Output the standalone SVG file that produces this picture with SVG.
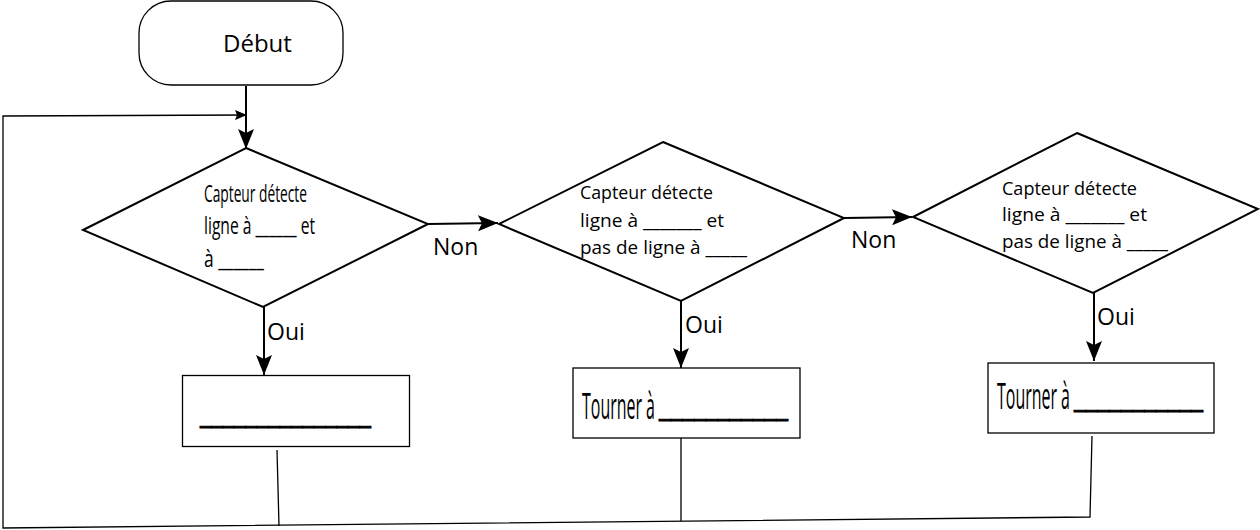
<svg xmlns="http://www.w3.org/2000/svg" width="1260" height="530" viewBox="0 0 1260 530">
<style>
  .shape { fill: #fff; stroke: #000; }
  .dia { stroke-width: 2; }
  .box { stroke-width: 1.3; }
  .conn { fill: none; stroke: #000; stroke-width: 2; }
  .thin { fill: none; stroke: #000; stroke-width: 1.3; }
  .lbl { font-family: "Open Sans", "Noto Sans", sans-serif; fill: #000; }
  .big { font-size: 23px; }
  .d1 { font-size: 23px; }
  .d2 { font-size: 18px; }
  .bx { font-size: 36px; }
  .us { font-size: 28px; stroke: #000; stroke-width: 1; }
</style>
<defs>
  <marker id="ah" viewBox="-20 -8 20 16" refX="0" refY="0" markerWidth="20" markerHeight="16" markerUnits="userSpaceOnUse" orient="auto">
    <path d="M0,0 L-20,-8 L-16,0 L-20,8 Z" fill="#000"/>
  </marker>
  <marker id="ahs" viewBox="-12 -5 12 10" refX="0" refY="0" markerWidth="12" markerHeight="10" markerUnits="userSpaceOnUse" orient="auto">
    <path d="M0,0 L-12,-5 L-10,0 L-12,5 Z" fill="#000"/>
  </marker>
</defs>

<g id="connectors">
  <path class="conn" d="M246,86 L246,149" marker-end="url(#ah)"/>
  <path class="thin" d="M1092,436 L1090,517 L3,528 L3,116 L247,115" marker-end="url(#ahs)"/>
  <path class="thin" d="M277,450 L279,526"/>
  <path class="thin" d="M681,438 L681,521"/>
  <path class="conn" d="M428,224 L498,223" marker-end="url(#ah)"/>
  <path class="conn" d="M844,218 L912,217" marker-end="url(#ah)"/>
  <path class="conn" d="M264,307 L264,375" marker-end="url(#ah)"/>
  <path class="conn" d="M681,301 L681,368" marker-end="url(#ah)"/>
  <path class="conn" d="M1094,293 L1094,361" marker-end="url(#ah)"/>
  <text class="lbl big" x="433" y="255">Non</text>
  <text class="lbl big" x="851" y="248">Non</text>
  <text class="lbl big" x="267" y="340">Oui</text>
  <text class="lbl big" x="685" y="333">Oui</text>
  <text class="lbl big" x="1097" y="325">Oui</text>
</g>

<g id="start">
  <rect class="shape box" x="139" y="1" width="204" height="84" rx="32" ry="32"/>
  <text class="lbl" style="font-size:24px" x="223" y="52">Début</text>
</g>

<g id="decision1">
  <polygon class="shape dia" points="246,148 428,224 263,307 83,230"/>
  <text class="lbl d1" x="204" y="202" textLength="103" lengthAdjust="spacingAndGlyphs">Capteur détecte</text>
  <text class="lbl d1" x="204" y="234" textLength="111" lengthAdjust="spacingAndGlyphs">ligne à ______ et</text>
  <text class="lbl d1" x="204" y="267" textLength="60" lengthAdjust="spacingAndGlyphs">à ______</text>
</g>

<g id="decision2">
  <polygon class="shape dia" points="663,142 844,218 681,301 499,224"/>
  <text class="lbl d2" x="580" y="199" textLength="133" lengthAdjust="spacingAndGlyphs">Capteur détecte</text>
  <text class="lbl d2" x="580" y="227" textLength="144" lengthAdjust="spacingAndGlyphs">ligne à _______ et</text>
  <text class="lbl d2" x="580" y="254" textLength="167" lengthAdjust="spacingAndGlyphs">pas de ligne à _____</text>
</g>

<g id="decision3">
  <polygon class="shape dia" points="1077,133 1258,209 1093,293 913,217"/>
  <text class="lbl d2" x="1002" y="195" textLength="135" lengthAdjust="spacingAndGlyphs">Capteur détecte</text>
  <text class="lbl d2" x="1002" y="221" textLength="145" lengthAdjust="spacingAndGlyphs">ligne à _______ et</text>
  <text class="lbl d2" x="1002" y="248" textLength="166" lengthAdjust="spacingAndGlyphs">pas de ligne à _____</text>
</g>

<g id="action1">
  <rect class="shape box" x="182.5" y="375.5" width="227" height="71"/>
  <text class="lbl us" x="200" y="424" textLength="171" lengthAdjust="spacingAndGlyphs">_______________</text>
</g>

<g id="action2">
  <rect class="shape box" x="573" y="368" width="227" height="70"/>
  <text class="lbl bx" transform="translate(582,419) scale(0.442,1)" x="0" y="0" textLength="165" lengthAdjust="spacingAndGlyphs">Tourner à</text>
  <text class="lbl us" x="659" y="417" textLength="129" lengthAdjust="spacingAndGlyphs">___________</text>
</g>

<g id="action3">
  <rect class="shape box" x="988" y="363" width="226" height="70"/>
  <text class="lbl bx" transform="translate(997,409) scale(0.442,1)" x="0" y="0" textLength="165" lengthAdjust="spacingAndGlyphs">Tourner à</text>
  <text class="lbl us" x="1074" y="408" textLength="129" lengthAdjust="spacingAndGlyphs">___________</text>
</g>
</svg>
